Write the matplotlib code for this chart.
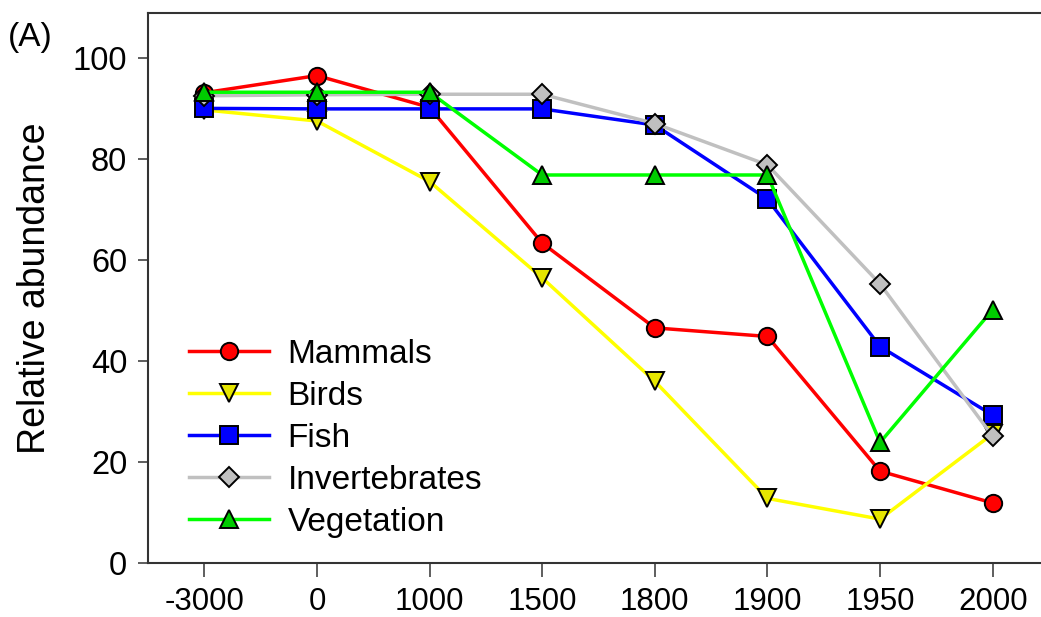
import numpy as np
import matplotlib.pyplot as plt

plt.rcParams['font.family'] = ['Liberation Sans', 'DejaVu Sans']

# Data
periods = ['-3000', '0', '1000', '1500', '1800', '1900', '1950', '2000']
mammals = [93.2, 96.6, 90.3, 63.4, 46.6, 44.9, 18.2, 11.9]
birds = [89.8, 87.6, 75.6, 56.5, 36.0, 12.8, 8.7, 25.6]
fish = [90.1, 90.0, 90.0, 90.0, 86.8, 72.1, 42.9, 29.3]
invertebrates = [92.6, 92.8, 92.9, 92.9, 87.1, 78.9, 55.3, 25.1]
vegetation = [93.3, 93.3, 93.3, 76.9, 76.9, 76.9, 23.9, 50.2]

series = [
    ('Mammals', mammals, '#ff0000', '#ff0000', 'o'),
    ('Birds', birds, '#ffff00', '#e6e600', 'v'),
    ('Fish', fish, '#0000ff', '#0000ff', 's'),
    ('Invertebrates', invertebrates, '#c0c0c0', '#c0c0c0', 'D'),
    ('Vegetation', vegetation, '#00ff00', '#00cc00', '^'),
]

fig = plt.figure(figsize=(10.41, 6.17), dpi=100)
ax = fig.add_axes([0.1422, 0.0875, 0.8655, 0.8914])

x = np.arange(len(periods))
for name, vals, lc, fc, mk in series:
    ms = 12.5 if mk != 'D' else 10.5
    ax.plot(x, vals, color=lc, lw=2.5, marker=mk, ms=ms,
            markerfacecolor=fc, markeredgecolor='black', markeredgewidth=1.4,
            label=name)

ax.set_xlim(-0.5, 7.5)
ax.set_ylim(0, 109)
ax.set_xticks(x)
ax.set_xticklabels(periods)
ax.set_yticks([0, 20, 40, 60, 80, 100])
ax.tick_params(axis='x', length=10, width=1.1, pad=7, labelsize=22.5, color='#333333')
ax.tick_params(axis='y', length=7, width=1.1, pad=8, labelsize=23.5, color='#333333')
for s in ax.spines.values():
    s.set_linewidth(1.5)
    s.set_color('#333333')

ax.set_ylabel('Relative abundance', fontsize=27, labelpad=14)
fig.text(0.008, 0.965, '(A)', fontsize=24, va='top', ha='left')

ax.legend(loc='lower left', bbox_to_anchor=(0.02, 0.003), frameon=False,
          fontsize=24, handlelength=2.4, handletextpad=0.55,
          labelspacing=0.33, borderaxespad=0.3)

fig.savefig('out.png', dpi=100)
